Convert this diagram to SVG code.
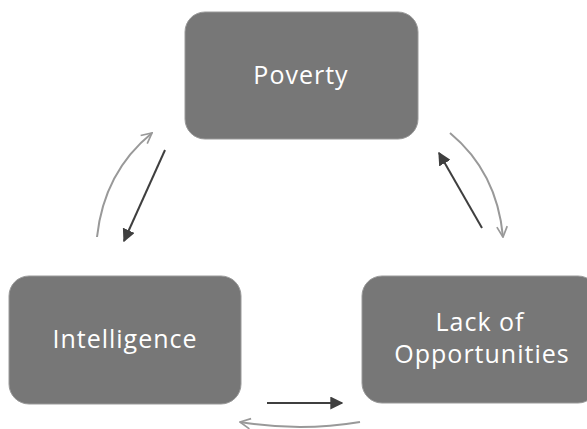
<svg xmlns="http://www.w3.org/2000/svg" width="587" height="429" viewBox="0 0 587 429">
<style>
.box{fill:#777777;stroke:#9a9a9a;stroke-width:1}
.lbl{font-family:"Open Sans","Liberation Sans",sans-serif;font-size:25px;letter-spacing:1px;fill:#ffffff;text-anchor:middle}
.dark{stroke:#3f3f3f;stroke-width:2;fill:none}
.light{stroke:#999999;stroke-width:2;fill:none}
</style>
<defs>
<marker id="fill" viewBox="0 0 10 10" refX="9" refY="5" markerWidth="6.5" markerHeight="6.5" orient="auto" markerUnits="strokeWidth">
<path d="M0,0 L10,5 L0,10 Z" fill="#3f3f3f"/>
</marker>
<marker id="open" viewBox="0 0 10 10" refX="9" refY="5" markerWidth="6.5" markerHeight="6.5" orient="auto" markerUnits="strokeWidth">
<path d="M1,1 L9,5 L1,9" fill="none" stroke="#999999" stroke-width="1.3"/>
</marker>
</defs>
<rect width="587" height="429" fill="#ffffff"/>
<g id="poverty">
<rect class="box" x="185" y="12" width="233" height="127" rx="20"/>
<text class="lbl" x="301" y="84">Poverty</text>
</g>
<g id="intelligence">
<rect class="box" x="9" y="276" width="232" height="128" rx="20"/>
<text class="lbl" x="125" y="348">Intelligence</text>
</g>
<g id="lack">
<rect class="box" x="362" y="276" width="236" height="127" rx="20"/>
<text class="lbl" x="480" y="331">Lack of</text>
<text class="lbl" x="482" y="363">Opportunities</text>
</g>
<g id="connectors">
<path class="light" d="M97,237 Q104,172 152,133" marker-end="url(#open)"/>
<path class="dark" d="M165,150 L124,241" marker-end="url(#fill)"/>
<path class="light" d="M450,133 Q497,172 503,237" marker-end="url(#open)"/>
<path class="dark" d="M482,228 L439,153" marker-end="url(#fill)"/>
<path class="dark" d="M267,403 L342,403" marker-end="url(#fill)"/>
<path class="light" d="M360,422 Q300,432 240,422" marker-end="url(#open)"/>
</g>
</svg>
